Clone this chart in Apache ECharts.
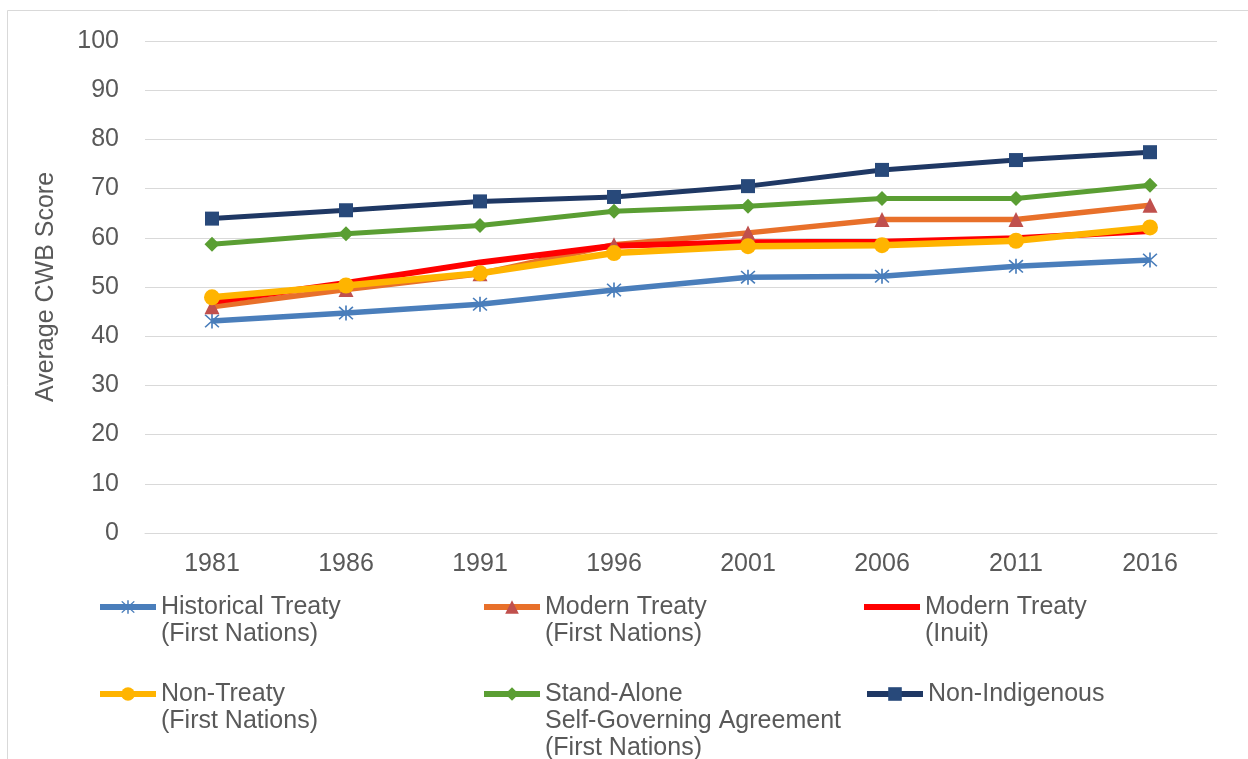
<!DOCTYPE html>
<html>
<head>
<meta charset="utf-8">
<script src="https://cdn.jsdelivr.net/npm/echarts@6/dist/echarts.min.js"></script>
<style>
  html, body { margin: 0; padding: 0; background: #fff; }
  #chart { width: 1248px; height: 759px; }
</style>
</head>
<body>
<div id="chart"></div>
<script>
const years = ['1981', '1986', '1991', '1996', '2001', '2006', '2011', '2016']
const yTicks = [0, 100, 10] // min, max, interval

const historicalTreaty = [43.1, 44.7, 46.5, 49.4, 52.0, 52.2, 54.2, 55.5]
const modernTreatyFN = [46.0, 49.5, 52.7, 58.6, 61.0, 63.7, 63.7, 66.6]
const modernTreatyInuit = [47.0, 50.8, 55.0, 58.4, 59.1, 59.2, 59.9, 61.4]
const nonTreaty = [47.9, 50.3, 52.8, 56.9, 58.3, 58.5, 59.4, 62.1]
const standAlone = [58.7, 60.8, 62.5, 65.4, 66.4, 68.0, 68.0, 70.7]
const nonIndigenous = [63.9, 65.6, 67.4, 68.3, 70.5, 73.8, 75.8, 77.4]

const starPath = 'path://M4.5 0h1v10h-1z M0.5 1.2L1.2 0.5L9.5 8.8L8.8 9.5z M8.8 0.5L9.5 1.2L1.2 9.5L0.5 8.8z'
const font = 'Liberation Sans'
const textColor = '#595959'
const lh = 27

const chart = echarts.init(document.getElementById('chart'))

function line (name, data, color, markColor, symbol, size, width) {
  return {
    name,
    type: 'line',
    data,
    symbol,
    symbolSize: size,
    showSymbol: symbol !== 'none',
    lineStyle: { color, width },
    itemStyle: { color: markColor },
    emphasis: { disabled: true },
    animation: false
  }
}

// one legend per entry so the icon lines up with the first text line:
// blank lines in front keep the first real line on the icon's centre
function legendItem (name, left, firstLineY, opts) {
  const lines = name.split('\n').length
  const pad = new Array(lines).join(' \n')
  const cfg = {
    data: [name],
    left,
    top: firstLineY - (lines - 0.5) * lh,
    padding: 0,
    itemWidth: 56,
    itemHeight: 17,
    itemGap: 0,
    selectedMode: false,
    lineStyle: { width: 6 },
    formatter: (n) => pad + n,
    textStyle: {
      fontFamily: font,
      fontSize: 25,
      color: textColor,
      lineHeight: lh
    }
  }
  return Object.assign(cfg, opts || {})
}

const n1 = 'Historical Treaty\n(First Nations)'
const n2 = 'Modern Treaty\n(First Nations)'
const n3 = 'Modern Treaty\n(Inuit)'
const n4 = 'Non-Treaty\n(First Nations)'
const n5 = 'Stand-Alone\nSelf-Governing Agreement\n(First Nations)'
const n6 = 'Non-Indigenous'

chart.setOption({
  backgroundColor: '#fff',
  graphic: [{
    type: 'rect',
    shape: { x: 7.5, y: 10.5, width: 1300, height: 800 },
    style: { fill: 'none', stroke: '#d9d9d9', lineWidth: 1 },
    silent: true
  }],
  grid: { left: 145, right: 31, top: 41, bottom: 226 },
  legend: [
    legendItem(n1, 97, 607),
    legendItem(n2, 481, 607),
    legendItem(n3, 864, 607, { data: [{ name: n3, icon: 'rect' }], itemHeight: 6 }),
    legendItem(n4, 97, 694),
    legendItem(n5, 481, 694),
    legendItem(n6, 864, 694)
  ],
  xAxis: {
    type: 'category',
    data: years,
    boundaryGap: true,
    axisLine: { show: true, lineStyle: { color: '#d9d9d9', width: 1 } },
    axisTick: { show: false },
    axisLabel: { fontFamily: font, fontSize: 25, color: textColor, margin: 19 }
  },
  yAxis: {
    type: 'value',
    min: yTicks[0],
    max: yTicks[1],
    interval: yTicks[2],
    name: 'Average CWB Score',
    nameLocation: 'middle',
    nameGap: 86,
    nameTextStyle: { fontFamily: font, fontSize: 25, color: textColor },
    axisLine: { show: false },
    axisTick: { show: false },
    splitLine: { lineStyle: { color: '#d9d9d9', width: 1 } },
    axisLabel: { fontFamily: font, fontSize: 25, color: textColor, margin: 26 }
  },
  series: [
    line(n1, historicalTreaty, '#4a7ebb', '#4a7ebb', starPath, 15, 5.5),
    line(n2, modernTreatyFN, '#e8702a', '#c0504d', 'triangle', 15, 5.5),
    line(n3, modernTreatyInuit, '#ff0000', '#ff0000', 'none', 0, 6),
    line(n4, nonTreaty, '#ffb400', '#ffb400', 'circle', 16, 6.5),
    line(n5, standAlone, '#5a9e33', '#5a9e33', 'diamond', 15, 5),
    line(n6, nonIndigenous, '#1f3864', '#28497a', 'rect', 14, 5)
  ]
})
</script>
</body>
</html>
